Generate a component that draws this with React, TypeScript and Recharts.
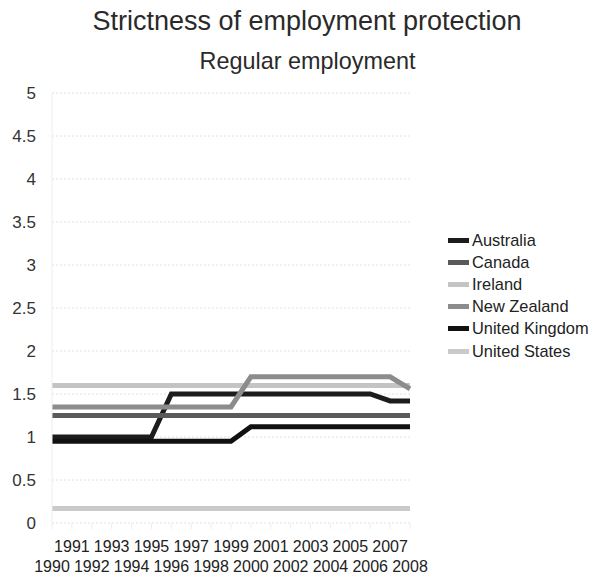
import { LineChart, Line, XAxis, YAxis, CartesianGrid } from "recharts";

const years = [
  "1990", "1991", "1992", "1993", "1994", "1995", "1996", "1997", "1998", "1999",
  "2000", "2001", "2002", "2003", "2004", "2005", "2006", "2007", "2008",
];

const australia = [1, 1, 1, 1, 1, 1, 1.5, 1.5, 1.5, 1.5, 1.5, 1.5, 1.5, 1.5, 1.5, 1.5, 1.5, 1.42, 1.42];
const canada = [1.25, 1.25, 1.25, 1.25, 1.25, 1.25, 1.25, 1.25, 1.25, 1.25, 1.25, 1.25, 1.25, 1.25, 1.25, 1.25, 1.25, 1.25, 1.25];
const ireland = [1.6, 1.6, 1.6, 1.6, 1.6, 1.6, 1.6, 1.6, 1.6, 1.6, 1.6, 1.6, 1.6, 1.6, 1.6, 1.6, 1.6, 1.6, 1.6];
const newZealand = [1.35, 1.35, 1.35, 1.35, 1.35, 1.35, 1.35, 1.35, 1.35, 1.35, 1.7, 1.7, 1.7, 1.7, 1.7, 1.7, 1.7, 1.7, 1.56];
const unitedKingdom = [0.95, 0.95, 0.95, 0.95, 0.95, 0.95, 0.95, 0.95, 0.95, 0.95, 1.12, 1.12, 1.12, 1.12, 1.12, 1.12, 1.12, 1.12, 1.12];
const unitedStates = [0.17, 0.17, 0.17, 0.17, 0.17, 0.17, 0.17, 0.17, 0.17, 0.17, 0.17, 0.17, 0.17, 0.17, 0.17, 0.17, 0.17, 0.17, 0.17];

const yTicks = [0, 0.5, 1, 1.5, 2, 2.5, 3, 3.5, 4, 4.5, 5];

const series = [
  { key: "australia", name: "Australia", color: "#1c1c1c", values: australia },
  { key: "canada", name: "Canada", color: "#5a5a5a", values: canada },
  { key: "ireland", name: "Ireland", color: "#c4c4c4", values: ireland },
  { key: "newZealand", name: "New Zealand", color: "#8c8c8c", values: newZealand },
  { key: "unitedKingdom", name: "United Kingdom", color: "#111111", values: unitedKingdom },
  { key: "unitedStates", name: "United States", color: "#cacaca", values: unitedStates },
];

const chartData = years.map((year, i) => {
  const row: Record<string, string | number> = { year };
  series.forEach((s) => {
    row[s.key] = s.values[i];
  });
  return row;
});

const font = "'Liberation Sans', Arial, sans-serif";

function YTick({ y, payload }: any) {
  return (
    <text x={36} y={y} dy={6} textAnchor="end" fontSize={17} fill="#333" fontFamily={font}>
      {String(payload.value)}
    </text>
  );
}

function XTick({ x, payload, index }: any) {
  const top = index % 2 === 1;
  return (
    <text x={x} y={top ? 552 : 572} textAnchor="middle" fontSize={16} fill="#222" fontFamily={font}>
      {payload.value}
    </text>
  );
}

// legend drawn as plain html to the right of the plot
function LegendBox() {
  return (
    <div
      style={{
        position: "absolute", left: 448, top: 229, fontFamily: font, fontSize: 16.4, color: "#222",
      }}
    >
      {series.map((s) => (
        <div key={s.key} style={{ display: "flex", alignItems: "center", height: 22.2, whiteSpace: "nowrap" }}>
          <span style={{ display: "inline-block", width: 21, height: 5, background: s.color, marginRight: 3 }} />
          <span>{s.name}</span>
        </div>
      ))}
    </div>
  );
}

export default function App() {
  return (
    <div style={{ position: "absolute", left: 0, top: 0, width: 592, height: 578, background: "#fff" }}>
      <div
        style={{
          position: "absolute", left: 0, top: 6, width: 614, textAlign: "center",
          fontFamily: font, fontSize: 27, color: "#2a2a2a", lineHeight: "31px",
        }}
      >
        Strictness of employment protection
      </div>
      <div
        style={{
          position: "absolute", left: 0, top: 47, width: 615, textAlign: "center",
          fontFamily: font, fontSize: 23.4, color: "#2a2a2a", lineHeight: "28px",
        }}
      >
        Regular employment
      </div>
      <LineChart
        width={592}
        height={578}
        data={chartData}
        margin={{ top: 93, right: 182, left: 0, bottom: 0 }}
      >
        <CartesianGrid stroke="#e2e2e2" strokeDasharray="2 2" vertical={false} />
        <XAxis
          dataKey="year"
          interval={0}
          height={55}
          tick={<XTick />}
          tickLine={{ stroke: "#eeeeee" }}
          axisLine={false}
        />
        <YAxis
          domain={[0, 5]}
          ticks={yTicks}
          width={52}
          tick={<YTick />}
          tickLine={false}
          axisLine={{ stroke: "#eeeeee" }}
        />
        {series.map((s) => (
          <Line
            key={s.key}
            type="linear"
            dataKey={s.key}
            name={s.name}
            stroke={s.color}
            strokeWidth={5}
            dot={false}
            isAnimationActive={false}
          />
        ))}
      </LineChart>
      <LegendBox />
    </div>
  );
}
